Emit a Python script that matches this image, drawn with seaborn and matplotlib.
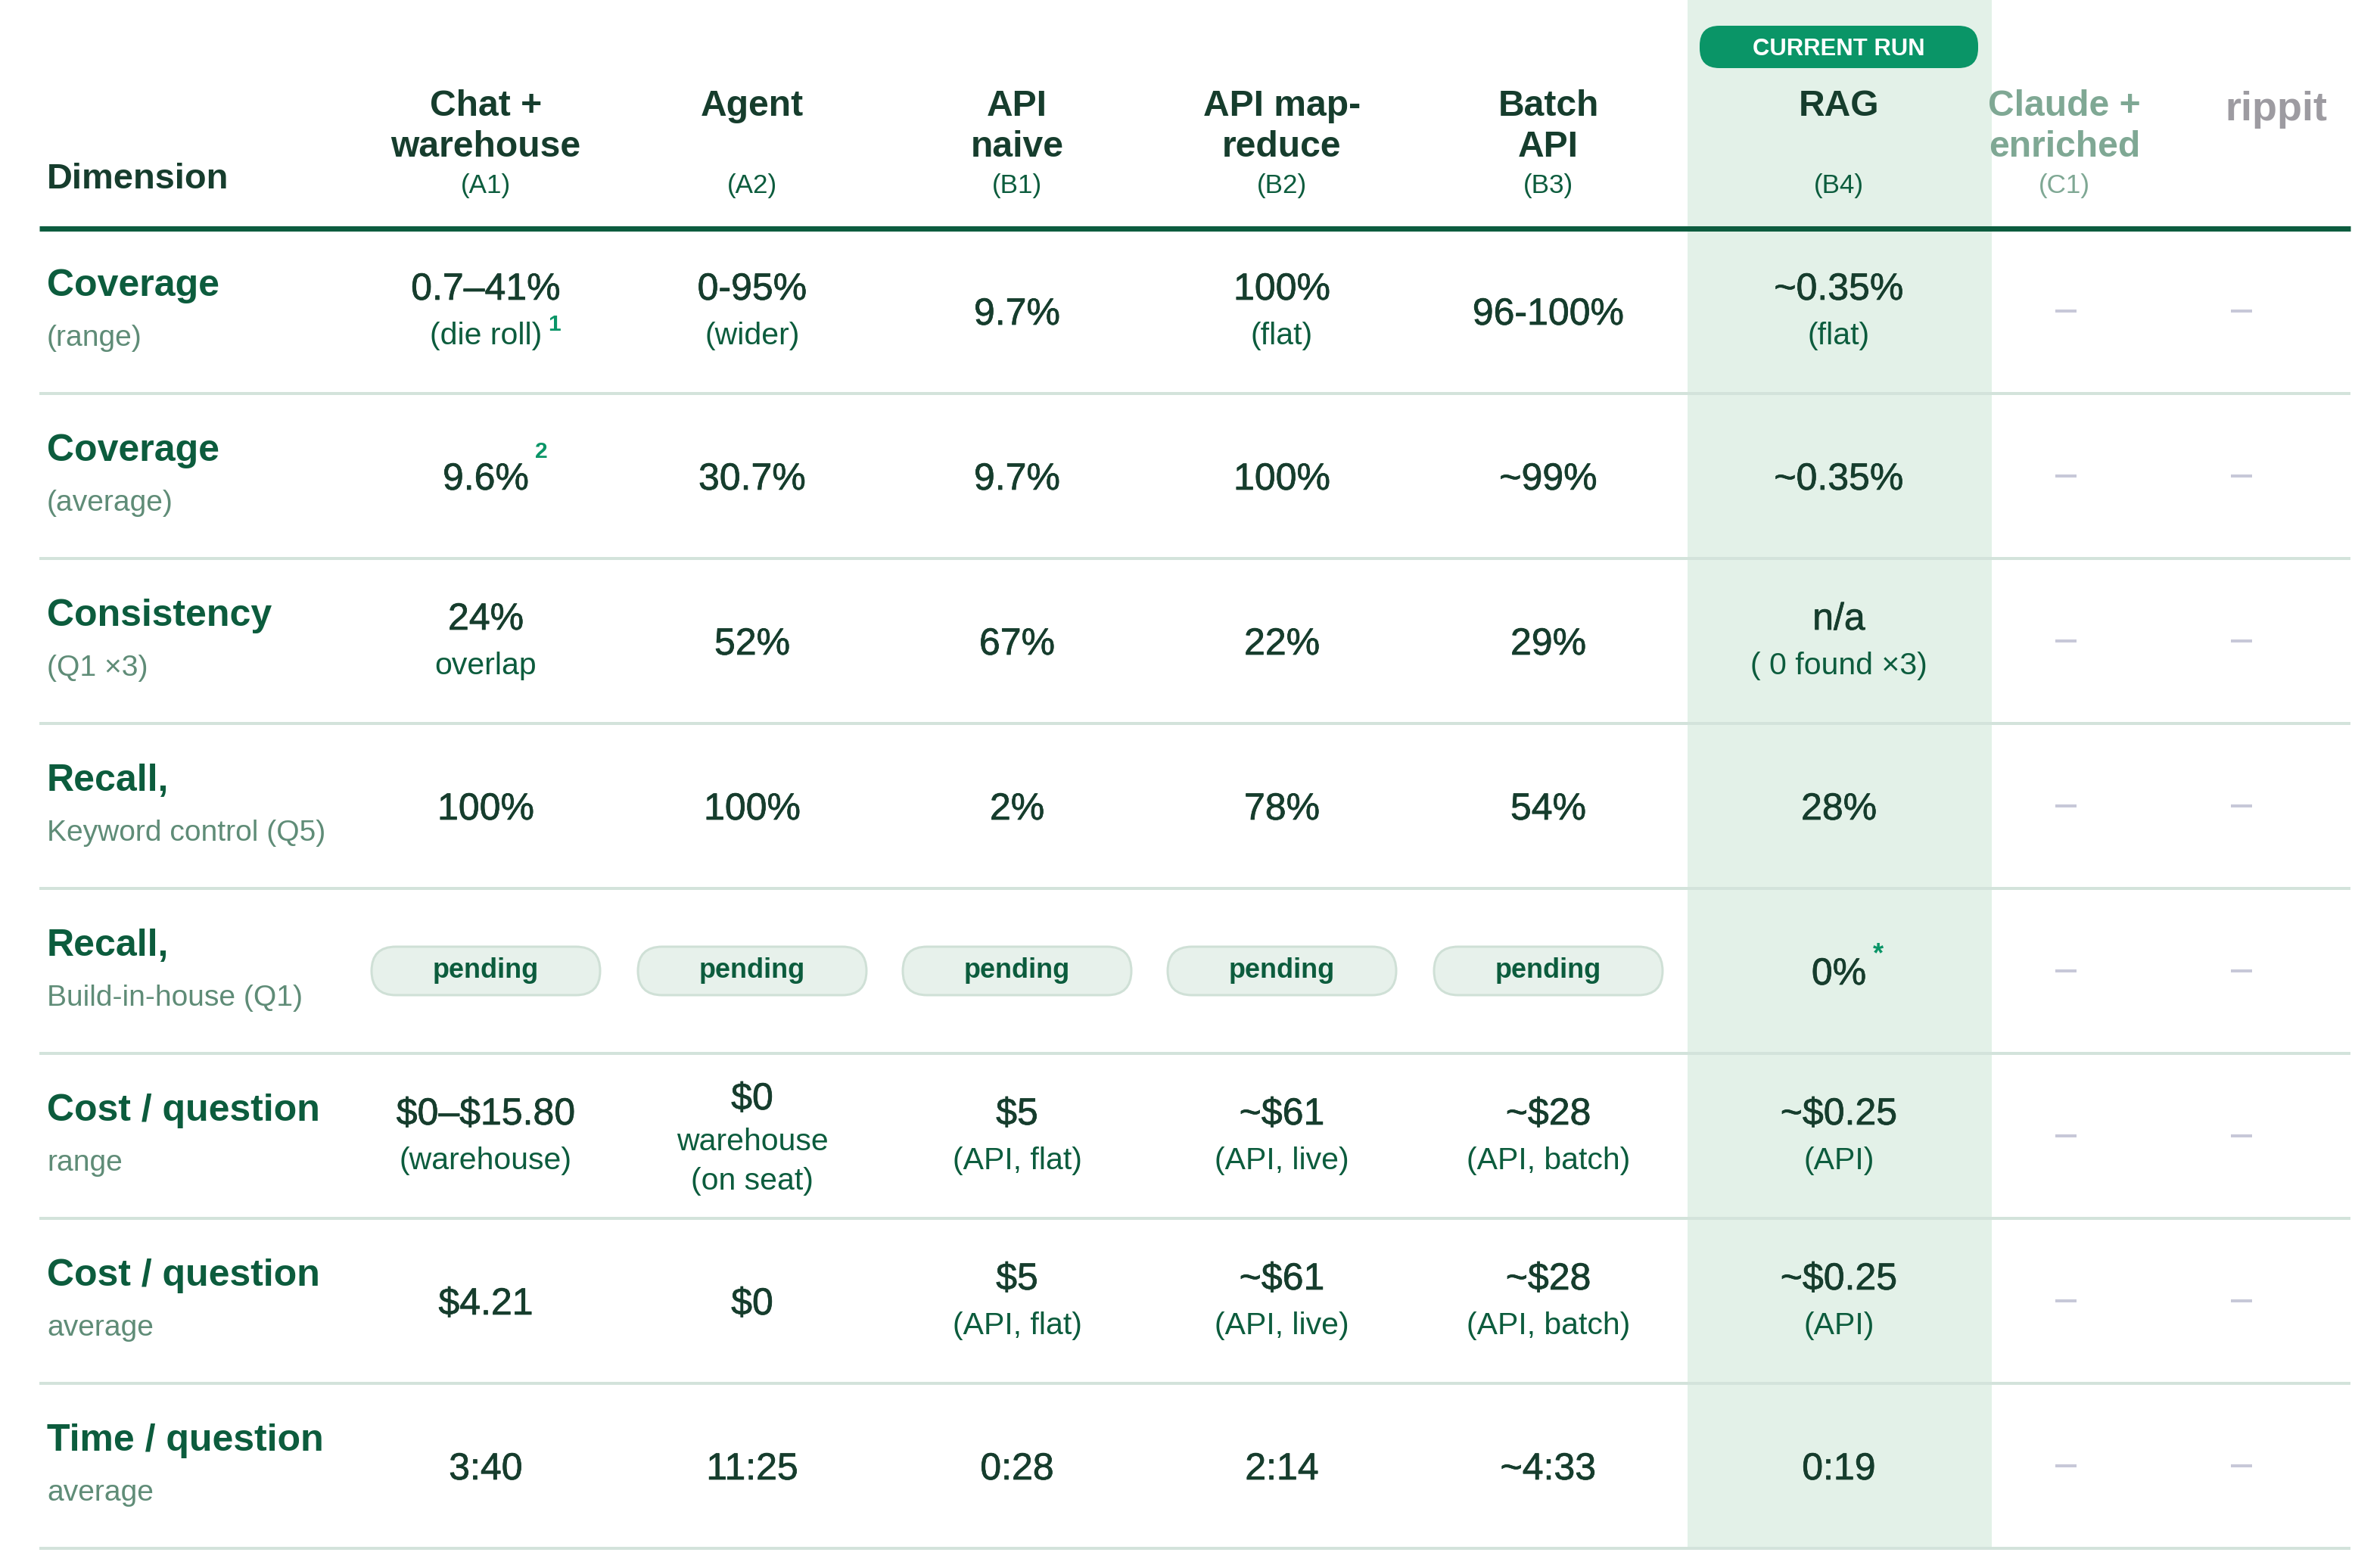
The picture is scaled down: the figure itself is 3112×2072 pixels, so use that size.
import matplotlib
matplotlib.use("Agg")
import matplotlib.pyplot as plt
from matplotlib.patches import FancyBboxPatch, Rectangle
import matplotlib.patheffects as pe
import seaborn as sns

# ---------------- data ----------------
columns = ["Chat +\nwarehouse", "Agent", "API\nnaive", "API map-\nreduce", "Batch\nAPI", "RAG",
           "Claude +\nenriched", "rippit"]
codes = ["(A1)", "(A2)", "(B1)", "(B2)", "(B3)", "(B4)", "(C1)", ""]
highlight_col = 5
pill_label = "CURRENT RUN"

row_labels = ["Coverage", "Coverage", "Consistency", "Recall,", "Recall,",
              "Cost / question", "Cost / question", "Time / question"]
row_sublabels = ["(range)", "(average)", "(Q1 \u00d73)", "Keyword control (Q5)",
                 "Build-in-house (Q1)", "range", "average", "average"]

coverage_range_main = ["0.7\u201341%", "0-95%", "9.7%", "100%", "96-100%", "~0.35%"]
coverage_range_note = ["(die roll)", "(wider)", "", "(flat)", "", "(flat)"]
coverage_avg_main = ["9.6%", "30.7%", "9.7%", "100%", "~99%", "~0.35%"]
coverage_avg_note = ["", "", "", "", "", ""]
consistency_main = ["24%", "52%", "67%", "22%", "29%", "n/a"]
consistency_note = ["overlap", "", "", "", "", "( 0 found \u00d73)"]
recall_kw_main = ["100%", "100%", "2%", "78%", "54%", "28%"]
recall_kw_note = ["", "", "", "", "", ""]
recall_bih_main = ["pending", "pending", "pending", "pending", "pending", "0%"]
recall_bih_note = ["", "", "", "", "", ""]
cost_range_main = ["$0\u2013$15.80", "$0", "$5", "~$61", "~$28", "~$0.25"]
cost_range_note = ["(warehouse)", "warehouse\n(on seat)", "(API, flat)", "(API, live)",
                   "(API, batch)", "(API)"]
cost_avg_main = ["$4.21", "$0", "$5", "~$61", "~$28", "~$0.25"]
cost_avg_note = ["", "", "(API, flat)", "(API, live)", "(API, batch)", "(API)"]
time_avg_main = ["3:40", "11:25", "0:28", "2:14", "~4:33", "0:19"]
time_avg_note = ["", "", "", "", "", ""]

mains = [coverage_range_main, coverage_avg_main, consistency_main, recall_kw_main,
         recall_bih_main, cost_range_main, cost_avg_main, time_avg_main]
notes = [coverage_range_note, coverage_avg_note, consistency_note, recall_kw_note,
         recall_bih_note, cost_range_note, cost_avg_note, time_avg_note]
# footnote marks: (row, col, which line, mark)
footnotes = [(0, 0, "note", "1"), (1, 0, "main", "2"), (4, 5, "main", "*")]

# ---------------- style ----------------
sns.set_theme(style="white")
plt.rcParams["font.family"] = ["Liberation Sans", "DejaVu Sans"]

DARK = "#163d2d"
GREEN = "#0c5c3d"
MUTED = "#5f8c77"
BRIGHT = "#0a9567"
LINE = "#0d5c3f"
SEP = "#d3e3db"
HIL = "#e3f1e8"
DASH = "#c7c8d8"
FADED = "#7fa894"
GRAY = "#9d9ba1"

W, H = 3112, 2072
fig = plt.figure(figsize=(W / 100, H / 100), dpi=100)
ax = fig.add_axes([0, 0, 1, 1])
ax.set_xlim(0, W)
ax.set_ylim(H, 0)
ax.axis("off")

PT = 0.72  # px -> pt at dpi 100

col_x = [642, 994, 1344, 1694, 2046, 2430, 2728, 3008]
dash_x = [2730, 2962]
left_x = 62
table_top = 302
row_h = 218
n_rows = len(row_labels)
table_bottom = table_top + row_h * n_rows

heavy = [pe.withStroke(linewidth=0.5, foreground=DARK)]


def put(x, yc, s, px, color, weight="normal", ha="center", **kw):
    return ax.text(x, yc + 0.36 * px, s, fontsize=px * PT, color=color, weight=weight,
                   ha=ha, va="baseline", parse_math=False, **kw)


# highlight column
hx0, hx1 = 2230, 2632
ax.add_patch(Rectangle((hx0, 0), hx1 - hx0, table_bottom, facecolor=HIL,
                       edgecolor="none", zorder=0))
# CURRENT RUN pill
ax.add_patch(FancyBboxPatch((2246, 34), 368, 56,
                            boxstyle="round,pad=0,rounding_size=26",
                            facecolor=BRIGHT, edgecolor="none", zorder=2))
put(col_x[highlight_col], 62, pill_label, 31, "white", weight="bold", zorder=3)

# header
put(left_x, 232, "Dimension", 47, DARK, weight="bold", ha="left")
for j, (name, code) in enumerate(zip(columns, codes)):
    lines = name.split("\n")
    if j == 6:
        color, size, y0 = FADED, 48, 136
    elif j == 7:
        color, size, y0 = GRAY, 54, 140
    else:
        color, size, y0 = DARK, 48, 136
    for k, ln in enumerate(lines):
        put(col_x[j], y0 + 54 * k, ln, size, color, weight="bold")
    if code:
        put(col_x[j], 242, code, 35, FADED if j == 6 else GREEN)

# lines
ax.plot([52, 3106], [table_top, table_top], color=LINE, lw=7 * PT,
        solid_capstyle="butt", zorder=3)
for i in range(1, n_rows + 1):
    y = table_top + row_h * i
    ax.plot([52, 3106], [y, y], color=SEP, lw=4 * PT, solid_capstyle="butt", zorder=1)

fig.canvas.draw()
renderer = fig.canvas.get_renderer()
inv = ax.transData.inverted()

# rows
for i in range(n_rows):
    top = table_top + row_h * i
    mid = top + row_h / 2
    put(left_x, top + 71, row_labels[i], 50, GREEN, weight="bold", ha="left")
    put(left_x, top + 141, row_sublabels[i], 39, MUTED, ha="left")
    for j in range(len(mains[i])):
        m = mains[i][j]
        nt = notes[i][j]
        x = col_x[j]
        handles = {}
        centers = {}
        if m == "pending":
            pw, ph = 302, 64
            ax.add_patch(FancyBboxPatch((x - pw / 2, mid - ph / 2), pw, ph,
                                        boxstyle="round,pad=0,rounding_size=32",
                                        facecolor="#e7f1eb", edgecolor="#cfe0d6",
                                        lw=3 * PT, zorder=2))
            put(x, mid - 4, m, 36, GREEN, weight="bold", zorder=3)
            continue
        note_lines = nt.split("\n") if nt else []
        if len(note_lines) == 0:
            centers["main"] = mid
        elif len(note_lines) == 1:
            centers["main"] = mid - 33
            centers["note"] = mid + 29
        else:
            centers["main"] = mid - 53
        handles["main"] = put(x, centers["main"], m, 50, DARK, path_effects=heavy)
        if len(note_lines) == 1:
            handles["note"] = put(x, centers["note"], note_lines[0], 41, GREEN)
        elif len(note_lines) > 1:
            for k, ln in enumerate(note_lines):
                centers["note"] = mid + 4 + 52 * k
                handles["note"] = put(x, centers["note"], ln, 41, GREEN)
        for (fr, fc, which, mark) in footnotes:
            if fr == i and fc == j:
                bb = handles[which].get_window_extent(renderer=renderer)
                (x1, _) = inv.transform((bb.x1, bb.y1))
                dy = -35 if which == "main" else -14
                size = 30
                if mark == "*":
                    dy += 10
                    size = 36
                put(x1 + 16, centers[which] + dy, mark, size, BRIGHT, weight="bold")
    for dx in dash_x:
        ax.plot([dx - 14, dx + 14], [mid, mid], color=DASH, lw=4 * PT,
                solid_capstyle="butt", zorder=2)

fig.savefig("out.png", dpi=100, facecolor="white")
